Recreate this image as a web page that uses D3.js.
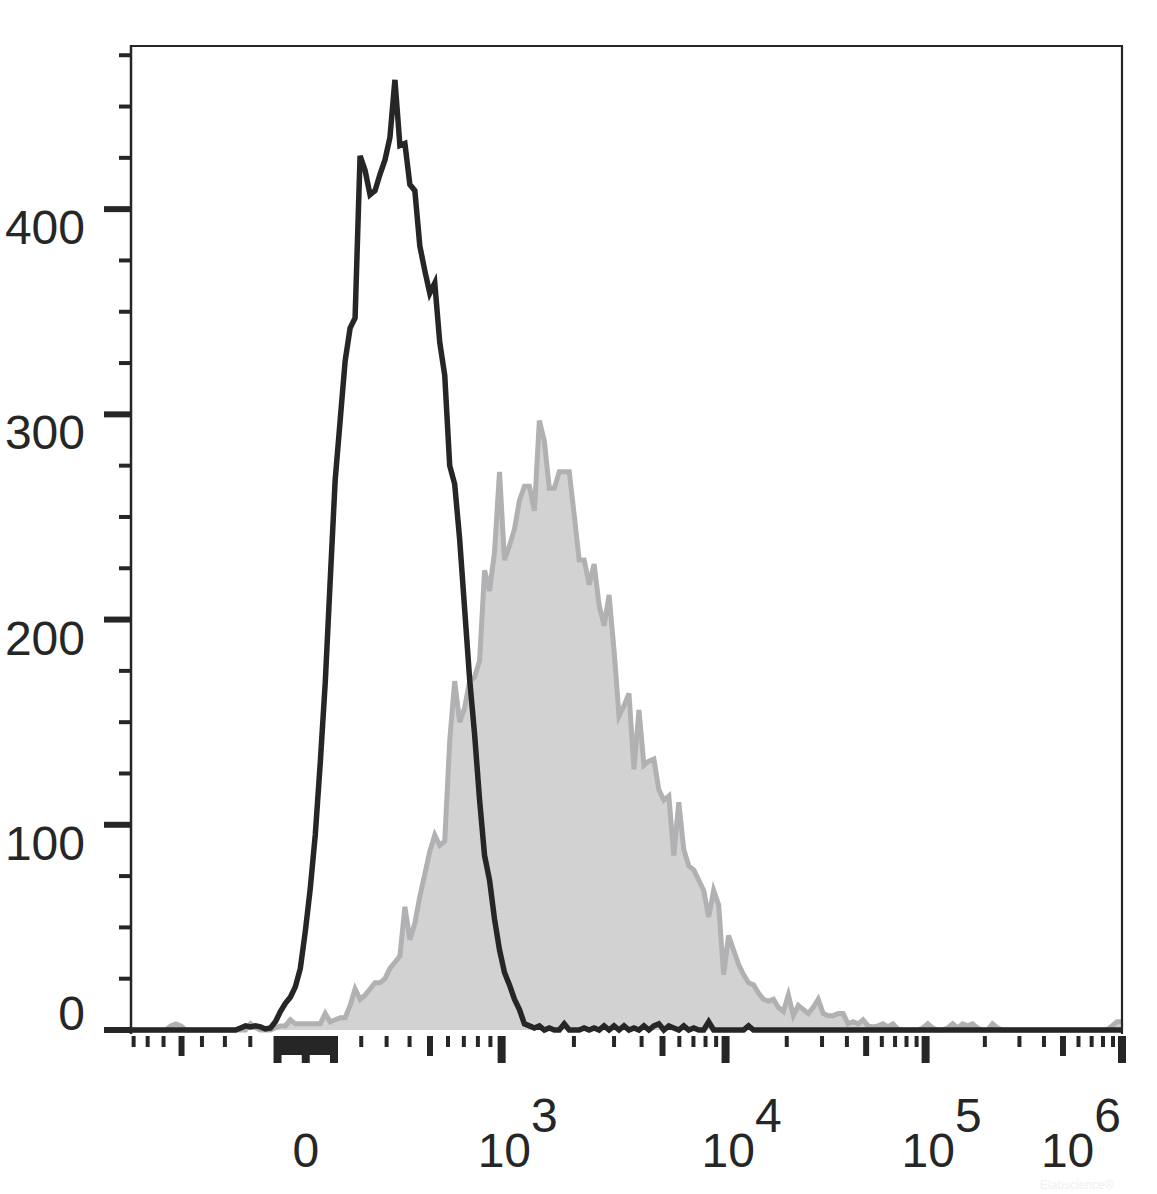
<!DOCTYPE html>
<html><head><meta charset="utf-8">
<script src="https://cdn.jsdelivr.net/npm/d3@7"></script>
<style>html,body{margin:0;padding:0;background:#fff;} svg{display:block;}</style>
</head><body>
<svg id="chart" width="1157" height="1194"></svg>
<script>
// ---------- data (histogram counts per display channel, 200 channels) ----------
const binCount = 200;
const blackCounts = [
  0,0,0,0,0,0,0,0,0,0, 0,0,0,0,0,0,0,0,0,0,
  0,0,1,2,1.5,2,1.5,0.5,1,4, 9,13,16,21,30,48,69,95,130,169,
  219,268,297,326,342,347,426,419,407,409, 417,424,435,463,431,432,412,409,382,370,
  359,364,335,319,275,266,239,205,171,144, 112,85,73,54,39,28,22,15,10,3,
  2,1,2,0,1,0,0,3,0,0, 0,1,0,1,0,2,0,2,0,2,
  0,1,0,2,0,2,3,0,2,1, 0,2,0,1,0,0,4,0,0,0,
  0,0,0,0,2,0,0,0,0,0, 0,0,0,0,0,0,0,0,0,0,
  0,0,0,0,0,0,0,0,0,0, 0,0,0,0,0,0,0,0,0,0,
  0,0,0,0,0,0,0,0,0,0, 0,0,0,0,0,0,0,0,0,0,
  0,0,0,0,0,0,0,0,0,0, 0,0,0,0,0,0,0,0,0,0
];
const greyCounts = [
  0,0,0,0,0,0,0,0,2,3, 2,0,0,0,0,0,0,0,0,0,
  0,0,0,0,3,1,0,0,0,1, 2,2,5,3,3,3,3,3,3,8,
  4,5,6,6,12,20,15,17,20,23, 23,25,30,33,36,60,44,52,65,76,
  87,95,90,92,141,170,150,157,170,172, 180,224,214,233,272,229,236,244,258,265,
  265,253,297,287,264,264,272,272,272,251, 229,229,217,227,207,197,212,185,153,158,
  164,127,156,129,131,132,117,112,114,85, 111,88,80,78,73,68,55,68,61,27,
  46,39,32,27,23,22,18,15,14,15, 11,9,17,7,12,10,8,11,15,8,
  7,7,8,8,3,4,3,5,2,1.5, 2,3,1.5,3,0.5,0,0,0,0,1,
  3,1,0,0,1,3,1,3,2,3, 1,0,0,3,1,0,0,0,0,0,
  0,0,0,0,0,0,0,0,0,0, 0,0,0,0,0,0,0,2,4,4
];
const yTickValues = d3.range(0, 476, 25);
const yLabelValues = [0, 100, 200, 300, 400];
const xMajorTicks = [-100, 0, 100, 1e3, 1e4, 1e5, 1e6];
const xMidTicks = [-500, 500, 5e3, 5e4, 5e5];
const xNearZeroTicks = [-90,-80,-70,-60,-50,-40,-30,-20,-10,10,20,30,40,50,60,70,80,90];
const xMinorTicks = [-800,-700,-600,-400,-300,-200,
  200,300,400,600,700,800,900,
  2e3,3e3,4e3,6e3,7e3,8e3,9e3,
  2e4,3e4,4e4,6e4,7e4,8e4,9e4,
  2e5,3e5,4e5,6e5,7e5,8e5,9e5];
const xLabelValues = [0, 1e3, 1e4, 1e5, 1e6];
const xLabelExponents = ["", "3", "4", "5", "6"];
const xDomain = [-820, 1e6];
const yDomain = [0, 479.5];

// ---------- logicle-type display transform ----------
const lgA = 68.1, lgP = 3.4;
function logicleForward(z) {
  const s = z < 0 ? -1 : 1, t = Math.abs(z);
  return s * lgA * (Math.pow(10, t) - lgP * lgP * Math.pow(10, -t / lgP) + lgP * lgP - 1);
}
function logicleInverse(v) {
  let lo = -4, hi = 8;
  for (let i = 0; i < 80; i++) {
    const m = (lo + hi) / 2;
    if (logicleForward(m) < v) lo = m; else hi = m;
  }
  return (lo + hi) / 2;
}

const svg = d3.select("#chart");
const plotL = 131, plotR = 1122, plotT = 46, plotB = 1030;

const xz = d3.scaleLinear().domain(xDomain.map(logicleInverse)).range([plotL, plotR]);
const x = v => xz(logicleInverse(v));
const xBin = d3.scaleLinear().domain([0, binCount - 1]).range([plotL, plotR]);
const y = d3.scaleLinear().domain(yDomain).range([plotB, plotT]);

const ink = "#262626";
const font = "'Liberation Sans', Arial, Helvetica, sans-serif";

// watermark (very faint)
svg.append("text").attr("x", 1040).attr("y", 1189)
  .attr("font-family", font).attr("font-size", 12).attr("fill", "#f1f1f1")
  .text("Elabscience®");

// grey filled histogram
const greyArea = d3.area().x((d, i) => xBin(i)).y0(y(0)).y1(d => y(d));
const greyLine = d3.line().x((d, i) => xBin(i)).y(d => y(d));
svg.append("path").datum(greyCounts).attr("d", greyArea).attr("fill", "#d2d2d2");
svg.append("path").datum(greyCounts).attr("d", greyLine)
  .attr("fill", "none").attr("stroke", "#b1b1b4").attr("stroke-width", 5)
  .attr("stroke-linejoin", "miter");

// frame
svg.append("line").attr("x1", plotL).attr("x2", plotR + 1).attr("y1", plotT).attr("y2", plotT)
  .attr("stroke", ink).attr("stroke-width", 1.8);
svg.append("line").attr("x1", plotR).attr("x2", plotR).attr("y1", plotT).attr("y2", plotB + 4)
  .attr("stroke", ink).attr("stroke-width", 2.2);
svg.append("line").attr("x1", plotL).attr("x2", plotL).attr("y1", plotT - 1).attr("y2", plotB + 4)
  .attr("stroke", ink).attr("stroke-width", 2.5);

// black histogram line
const blackLine = d3.line().x((d, i) => xBin(i)).y(d => y(d));
svg.append("path").datum(blackCounts).attr("d", blackLine)
  .attr("fill", "none").attr("stroke", ink).attr("stroke-width", 5.5)
  .attr("stroke-linejoin", "miter").attr("stroke-miterlimit", 4);

// y ticks
svg.append("g").selectAll("line").data(yTickValues).join("line")
  .attr("x1", d => d % 100 === 0 ? plotL - 27 : plotL - 12)
  .attr("x2", plotL)
  .attr("y1", d => y(d)).attr("y2", d => y(d))
  .attr("stroke", ink)
  .attr("stroke-width", d => d % 100 === 0 ? 6 : 4);

// y labels
svg.append("g").selectAll("text").data(yLabelValues).join("text")
  .attr("x", 85)
  .attr("y", d => d === 0 ? y(d) : y(d) + 35)
  .attr("text-anchor", "end")
  .attr("font-family", font).attr("font-size", 48).attr("fill", ink)
  .text(d => d);

// x ticks
const tickTop = plotB + 6;
const tickGroup = svg.append("g");
function drawTicks(vals, len, wid) {
  tickGroup.append("g").selectAll("line").data(vals).join("line")
    .attr("x1", d => x(d)).attr("x2", d => x(d))
    .attr("y1", tickTop).attr("y2", tickTop + len)
    .attr("stroke", ink).attr("stroke-width", wid);
}
drawTicks(xMinorTicks, 11, 4);
drawTicks(xNearZeroTicks, 19, 4);
drawTicks(xMidTicks, 20, 6);
drawTicks(xMajorTicks, 27, 8);

// x labels
const xl = svg.append("g");
xLabelValues.forEach((v, i) => {
  const exp = xLabelExponents[i];
  const t = xl.append("text")
    .attr("y", 1167)
    .attr("font-family", font).attr("font-size", 48).attr("fill", ink);
  if (!exp) {
    t.attr("x", x(v)).attr("text-anchor", "middle").text(String(v));
  } else {
    const last = i === xLabelValues.length - 1;
    t.attr("x", last ? x(v) - 1 : x(v) - 24).attr("text-anchor", last ? "end" : "start");
    t.append("tspan").text("10");
    t.append("tspan").attr("dy", -35).text(exp);
  }
});
</script>
</body></html>
